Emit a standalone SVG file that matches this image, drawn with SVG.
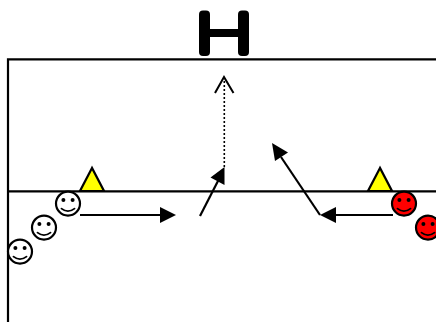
<svg xmlns="http://www.w3.org/2000/svg" width="436" height="322" viewBox="0 0 436 322">
<style>
.f{fill:none;stroke:#000;stroke-width:2.2}
.c{stroke:#000;stroke-width:2.2}
.w{fill:#fff}
.r{fill:#f00}
.t{fill:#ff0;stroke:#000;stroke-width:2.2}
.s{fill:none;stroke:#000;stroke-width:1.8;stroke-linecap:round}
</style>
<defs>
<g id="face"><circle cx="-4.6" cy="-3.6" r="2" fill="#000"/><circle cx="4.6" cy="-3.6" r="2" fill="#000"/><path class="s" d="M-6.5 5Q0 10 6.5 5"/></g>
</defs>
<g id="field"><path class="f" d="M8 322V59.3H436M8 191.3H436"/></g>
<g id="letter"><rect x="199" y="10.5" width="11" height="45.5" rx="4"/><rect x="238" y="10.5" width="11" height="45.5" rx="4"/><rect x="205" y="29" width="38" height="8"/></g>
<g id="cone-left"><polygon class="t" points="92,168 80,191 104,191"/></g>
<g id="cone-right"><polygon class="t" points="380,168 368,191 392,191"/></g>
<g id="player-w1"><circle class="c w" cx="68" cy="203.6" r="12"/><use href="#face" x="68" y="203.6"/></g>
<g id="player-w2"><circle class="c w" cx="44" cy="227.6" r="12"/><use href="#face" x="44" y="227.6"/></g>
<g id="player-w3"><circle class="c w" cx="20" cy="251.6" r="12"/><use href="#face" x="20" y="251.6"/></g>
<g id="player-r1"><circle class="c r" cx="404" cy="203.6" r="12"/><use href="#face" x="404" y="203.6"/></g>
<g id="player-r2"><circle class="c r" cx="428" cy="227.6" r="12"/><use href="#face" x="428" y="227.6"/></g>
<g id="connectors">
<path class="f" d="M80 215H162"/><polygon points="176,215 160,207 160,223"/>
<path class="f" d="M393 215H334"/><polygon points="320,215 336,207 336,223"/>
<path class="f" d="M200 216L219 179"/><polygon points="224.5,167 210.5,177.5 224.5,185"/>
<path class="f" d="M320 215L281 157"/><polygon points="272,143 275,161 288,152.5"/>
<path d="M224.3 167V78" fill="none" stroke="#000" stroke-width="1.6" stroke-dasharray="2 2"/>
<path d="M215 93L224 77L233.5 93" fill="none" stroke="#000" stroke-width="2"/>
</g>
</svg>
